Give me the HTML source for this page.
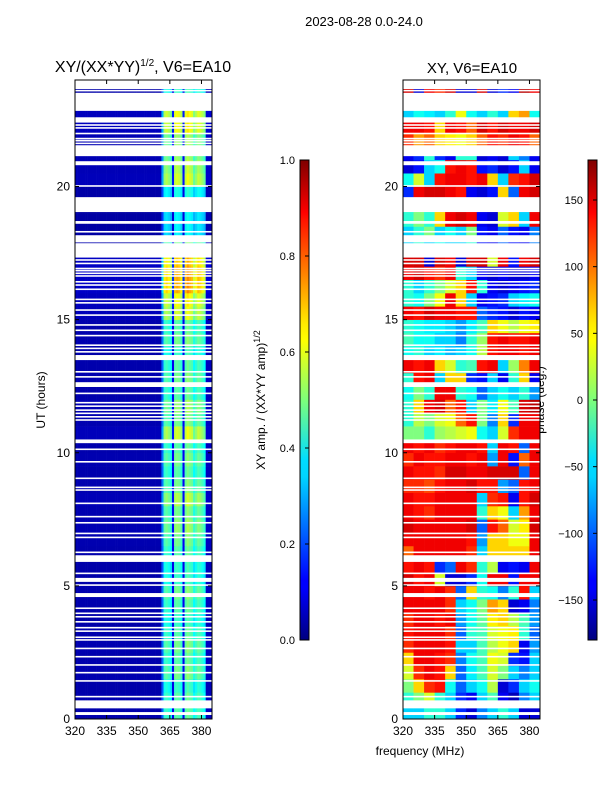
<!DOCTYPE html>
<html><head><meta charset="utf-8">
<style>
body{margin:0;background:#fff;width:600px;height:800px;overflow:hidden}
svg text{font-family:"Liberation Sans","DejaVu Sans",sans-serif;fill:#000}
</style></head>
<body>
<svg id="fig" width="600" height="800" xmlns="http://www.w3.org/2000/svg">
<defs>
<linearGradient id="jetg" x1="0" y1="1" x2="0" y2="0">
<stop offset="0" stop-color="#00007f"/><stop offset="0.11" stop-color="#0000ff"/>
<stop offset="0.125" stop-color="#0000ff"/><stop offset="0.34" stop-color="#00d4ff"/>
<stop offset="0.375" stop-color="#0df"/><stop offset="0.5" stop-color="#7dff7a"/>
<stop offset="0.625" stop-color="#ff0"/><stop offset="0.66" stop-color="#ffea00"/>
<stop offset="0.875" stop-color="#ff1300"/><stop offset="0.89" stop-color="#f00"/>
<stop offset="1" stop-color="#7f0000"/>
</linearGradient>
</defs>
<text x="364" y="26" font-size="13" text-anchor="middle">2023-08-28 0.0-24.0</text>
<text x="143" y="72" font-size="16" text-anchor="middle">XY/(XX*YY)<tspan font-size="10" dy="-6">1/2</tspan><tspan dy="6">, V6=EA10</tspan></text>
<text x="472" y="73" font-size="15" text-anchor="middle">XY, V6=EA10</text>
<text x="420" y="755" font-size="12" text-anchor="middle">frequency (MHz)</text>
<text transform="translate(45,400) rotate(-90)" font-size="12" text-anchor="middle">UT (hours)</text>
<text transform="translate(265,400) rotate(-90)" font-size="12" text-anchor="middle">XY amp. / (XX*YY amp)<tspan font-size="9" dy="-5">1/2</tspan></text>
<text transform="translate(544,400) rotate(-90)" font-size="12" text-anchor="middle">phase (deg.)</text>
<g id="ampPanel"></g>
<g id="phPanel"></g>
<g id="axes"></g>
</svg>
<script>
// ---- data ----
const freqStart = 320, freqEnd = 385;
const hourStart = 0, hourEnd = 24;
const xTicks = [320, 335, 350, 365, 380];
const yTicks = [0, 5, 10, 15, 20];
const ampTicks = [0.0, 0.2, 0.4, 0.6, 0.8, 1.0];
const phaseTicks = [-150, -100, -50, 0, 50, 100, 150];
// amplitude spectral profile per 1 MHz channel (320..384)
const ampChannel = [0.06,0.06,0.06,0.06,0.06,0.06,0.06,0.06,0.06,0.06,0.06,0.06,0.06,0.06,0.06,0.06,0.06,0.06,0.06,0.06,
0.06,0.06,0.06,0.06,0.06,0.06,0.06,0.06,0.06,0.06,0.06,0.06,0.06,0.06,0.06,0.06,0.06,0.06,0.06,0.06,0.06,
0.3,0.55,0.58,0.55,0.5,0.15,0.6,0.62,0.6,0.55,0.15,0.6,0.65,0.62,0.6,0.5,0.55,0.6,0.58,0.55,0.5,0.08,0.08,0.08];
// amplitude level per half-hour row (0..24h)
const ampHour = [0.75,0.75,0.7,0.8,0.75,0.8,0.75,0.7,0.75,0.8,0.7,0.7,0.75,0.8,0.85,0.8,0.9,0.8,0.75,0.8,0.75,0.95,0.8,0.85,
0.75,0.8,0.75,0.7,0.8,0.75,0.95,1.0,1.15,1.15,1.1,0.8,0.6,0.6,0.6,0.65,0.95,0.9,0.85,0.85,1.0,1.0,0.7,0.7];
// phase (deg) per half-hour row x 5 MHz column
const phaseGrid = [
[-60,-60,-30,-30,-60,-120,-150,-90,-60,-30,-60,-150,-150],
[-30,0,30,-30,-60,-120,-140,-60,-20,-140,-160,-90,-60],
[0,60,120,130,-40,-100,-60,-40,20,-150,-120,-60,-40],
[30,120,140,130,60,-100,-50,-20,30,0,-60,-90,-60],
[60,140,140,130,120,-90,-40,-20,40,30,-120,-130,-60],
[120,140,140,140,130,-60,-60,-20,20,40,60,-140,-80],
[130,140,140,140,120,-100,-30,-20,30,40,50,-30,-100],
[120,140,140,130,140,-80,-40,-10,50,60,20,-20,-80],
[140,140,140,140,120,-60,-40,0,80,60,-150,-140,-90],
[140,140,130,140,120,-100,60,-30,-40,-90,-30,130,-60],
[150,130,140,30,-150,-150,-120,-40,140,140,-130,140,140],
[130,140,130,-120,-100,140,120,-30,20,-140,-130,-140,140],
[100,140,140,140,140,140,120,-60,60,60,60,60,140],
[140,140,140,140,140,140,130,-80,60,60,40,40,140],
[150,140,140,140,140,140,150,-100,130,100,30,50,150],
[140,130,120,140,140,140,140,-30,60,40,-60,80,140],
[140,130,130,140,140,140,140,-60,120,130,-140,130,150],
[120,120,110,130,140,140,150,130,130,-80,-100,130,140],
[140,130,130,120,150,150,140,140,150,150,150,-100,140],
[120,140,130,130,140,140,130,140,-80,140,-130,100,140],
[140,130,140,120,130,140,140,130,-60,140,130,-100,140],
[0,0,-30,10,20,30,40,-40,-60,30,120,140,140],
[-30,20,0,30,40,100,130,0,-90,60,-120,140,140],
[-30,60,140,150,100,130,-60,0,-50,40,-20,150,160],
[-40,0,-30,140,140,-30,-40,-100,-60,-40,-60,-30,-80],
[-30,130,140,-60,60,60,-120,-130,-60,-140,-30,60,-140],
[140,130,140,60,30,-30,-20,130,140,-60,10,90,140],
[-40,-30,-60,-50,-70,-60,-40,20,130,140,140,130,140],
[-20,-40,-40,-60,-60,-90,-30,10,130,140,130,130,140],
[-30,-40,-50,-50,-60,-80,-50,-20,60,40,20,40,50],
[140,130,150,140,140,130,130,-100,-120,-130,-150,-130,-140],
[-30,-40,0,40,140,60,-60,-140,-130,-120,-60,-50,-40],
[-30,-60,-30,0,30,60,130,-30,-140,-150,-140,-130,-120],
[140,150,130,120,140,-30,-60,-140,-150,-140,-150,-150,-140],
[150,150,-150,150,140,-150,150,150,30,140,-130,140,150],
[-60,-30,-60,-40,-60,-60,-30,-130,-140,-100,-130,-140,-90],
[-60,-30,0,-60,-40,-60,0,-130,-140,-100,-130,-140,-90],
[-30,0,-30,60,140,150,140,-140,-150,30,60,-60,140],
[-30,0,-30,60,140,150,140,-140,-150,30,60,-60,140],
[-120,140,150,150,140,130,-140,-150,-130,60,-100,140,150],
[-40,30,-60,130,140,140,130,140,60,-60,120,130,150],
[-150,-130,-60,-40,130,140,130,-130,-120,-150,-130,-60,-140],
[-140,-120,-30,-120,-140,-30,-30,-150,-140,-150,-60,-90,-140],
[120,80,100,60,50,40,60,100,130,120,140,130,100],
[140,140,130,60,140,130,100,150,130,150,140,140,150],
[-60,-40,-50,-60,-30,40,-40,-60,-30,-60,60,80,-40],
[-60,-20,-60,-30,-60,20,30,-60,-30,-60,60,90,40],
[150,-150,140,120,150,-150,-150,150,-150,-120,-140,160,140]];
// flagged (no data) time ranges in hours [start, end]
const gapRanges = [[23.66,24],[22.84,23.52],[22.4,22.6],[21.14,21.55],[20.8,20.95],[19.04,19.6],[18.6,18.7],[17.9,18.17],[17.38,17.87],
[13.48,13.67],[12.47,12.65],[10.36,10.5],[5.9,6.15],[5.15,5.3],[4.58,4.73],[0.4,0.7],[0.15,0.26]];
const thinGaps = [23.6,22.31,22.2,21.99,21.8,21.72,21.62,20.02,18.67,18.3,17.36,17.24,17.11,16.92,16.84,16.74,16.64,16.42,16.3,16.14,
15.76,15.63,15.36,15.17,14.8,14.6,14.4,14.04,13.92,13.79,13.04,12.85,12.23,11.88,11.75,11.6,11.48,11.35,11.23,
10.13,9.66,9.04,8.7,8.6,8.1,7.6,7.37,6.97,6.82,6.26,5.47,5.03,4.16,3.97,3.84,3.65,3.43,3.3,3.07,2.97,2.65,2.34,2.03,1.74,1.43,0.84];

// ---- scales ----
const NS='http://www.w3.org/2000/svg';
const panels = [{x0:75,x1:212,g:'ampPanel',kind:'amp'},{x0:403,x1:540,g:'phPanel',kind:'phase'}];
const Y0 = 80, Y1 = 719;
function yScale(h){return Y1 - (h-hourStart)/(hourEnd-hourStart)*(Y1-Y0);}
function xScale(p,f){return p.x0 + (f-freqStart)/(freqEnd-freqStart)*(p.x1-p.x0);}
function clamp(v){return Math.max(0,Math.min(1,v));}
function jet(v){v=clamp(v);
  const r=clamp(1.5-Math.abs(4*v-3)),g=clamp(1.5-Math.abs(4*v-2)),b=clamp(1.5-Math.abs(4*v-1));
  return 'rgb('+Math.round(r*255)+','+Math.round(g*255)+','+Math.round(b*255)+')';}
function mk(tag,attrs,parent){const e=document.createElementNS(NS,tag);for(const k in attrs)e.setAttribute(k,attrs[k]);parent.appendChild(e);return e;}

const nRows = ampHour.length, rowH = (hourEnd-hourStart)/nRows;
// amplitude heatmap
{const p=panels[0];const g=document.getElementById(p.g);
 for(let r=0;r<nRows;r++){for(let c=0;c<ampChannel.length;c++){
   const f0=freqStart+c, f1=f0+1, h0=r*rowH, h1=h0+rowH;
   const x=xScale(p,f0), w=xScale(p,f1)-x+0.3, y=yScale(h1), hh=yScale(h0)-y+0.3;
   const el=mk('rect',{x:x,y:y,width:w,height:hh,fill:jet(ampChannel[c]*ampHour[r])},g);
   
   
 }}}
// phase heatmap
{const p=panels[1];const g=document.getElementById(p.g);const cw=(freqEnd-freqStart)/phaseGrid[0].length;
 for(let r=0;r<phaseGrid.length;r++){for(let c=0;c<phaseGrid[r].length;c++){
   const f0=freqStart+c*cw,f1=f0+cw,h0=r*rowH,h1=h0+rowH;
   const x=xScale(p,f0), w=xScale(p,f1)-x+0.3, y=yScale(h1), hh=yScale(h0)-y+0.3;
   const el=mk('rect',{x:x,y:y,width:w,height:hh,fill:jet((phaseGrid[r][c]+180)/360)},g);
   
   
 }}}
// gaps, axes
const ax=document.getElementById('axes');
panels.forEach((p,pi)=>{
  const g=document.getElementById(p.g);
  gapRanges.forEach(gr=>{const y=yScale(gr[1]);
    const el=mk('rect',{x:p.x0,y:y,width:p.x1-p.x0,height:yScale(gr[0])-y,fill:'#fff'},g);
    
    });
  thinGaps.forEach(h=>{const el=mk('rect',{x:p.x0,y:yScale(h)-0.8,width:p.x1-p.x0,height:1.6,fill:'#fff'},g);
    
    });
  const fr=mk('rect',{x:p.x0,y:Y0,width:p.x1-p.x0,height:Y1-Y0,fill:'none',stroke:'#000','stroke-width':1},ax);
  
  
  xTicks.forEach(t=>{const x=xScale(p,t);
    mk('line',{x1:x,y1:Y1,x2:x,y2:Y1-4,stroke:'#000'},ax);mk('line',{x1:x,y1:Y0,x2:x,y2:Y0+4,stroke:'#000'},ax);
    const tx=mk('text',{x:x,y:Y1+16,'font-size':12,'text-anchor':'middle'},ax);tx.textContent=t;
    
    });
  yTicks.forEach(t=>{const y=yScale(t);
    mk('line',{x1:p.x0,y1:y,x2:p.x0+4,y2:y,stroke:'#000'},ax);mk('line',{x1:p.x1,y1:y,x2:p.x1-4,y2:y,stroke:'#000'},ax);
    const tx=mk('text',{x:p.x0-5,y:y+4,'font-size':12,'text-anchor':'end'},ax);tx.textContent=t;
    
    });
});
// colorbars
const cbY0=160, cbY1=640;
[{x:300,ticks:ampTicks,min:0,max:1,name:'amp-colorbar',fmt:v=>v.toFixed(1)},
 {x:588,ticks:phaseTicks,min:-180,max:180,name:'phase-colorbar',fmt:v=>String(v).replace('-','\u2212')}].forEach(cb=>{
  const r=mk('rect',{x:cb.x,y:cbY0,width:9,height:cbY1-cbY0,fill:'url(#jetg)',stroke:'#000','stroke-width':1},ax);
  
  
  cb.ticks.forEach(t=>{const y=cbY1-(t-cb.min)/(cb.max-cb.min)*(cbY1-cbY0);
    mk('line',{x1:cb.x+9,y1:y,x2:cb.x+5,y2:y,stroke:'#000'},ax);
    const tx=mk('text',{x:cb.x-5,y:y+4,'font-size':11,'text-anchor':'end'},ax);tx.textContent=cb.fmt(t);
    
    });
});
</script>
</body></html>
